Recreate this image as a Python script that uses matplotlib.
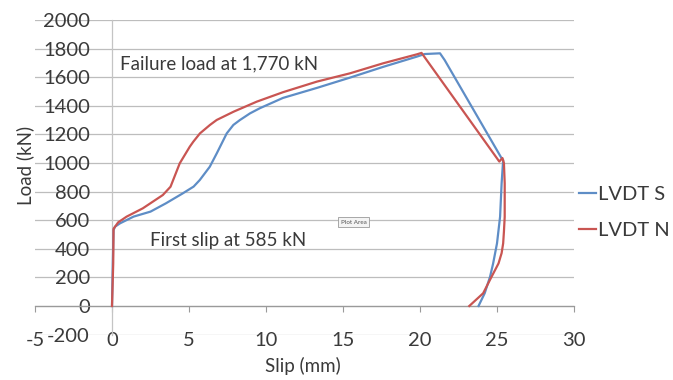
import matplotlib
matplotlib.use("Agg")
import matplotlib.pyplot as plt

plt.rcParams['font.family'] = ['Lato', 'DejaVu Sans']
plt.rcParams['axes.unicode_minus'] = False

# Load-slip response measured by the two LVDTs
slip_s = [0.0, 0.05, 0.1, 0.2, 0.52, 0.95, 1.4, 2.5, 3.5, 4.6, 5.3, 5.7, 6.35, 6.8,
          7.45, 7.88, 8.3, 8.96, 9.6, 11.1, 12.2, 13.3, 15.45, 17.6, 19.8, 20.3,
          21.3, 21.6, 25.3, 25.4, 25.3, 25.2, 25.0, 24.75, 24.55, 24.2, 23.8]
load_s = [0, 300, 531, 555, 578, 601, 625, 660, 718, 788, 835, 881, 974, 1067,
          1207, 1266, 1300, 1347, 1383, 1455, 1490, 1525, 1597, 1672, 1744, 1762,
          1767, 1720, 1033, 1021, 858, 624, 438, 298, 205, 89, 0]

slip_n = [0.0, 0.08, 0.1, 0.4, 0.95, 2.0, 3.3, 3.8, 4.4, 5.05, 5.28, 5.71, 6.36,
          6.8, 7.9, 9.4, 11.1, 13.3, 15.45, 17.6, 19.8, 20.1, 25.15, 25.35, 25.45,
          25.5, 25.5, 25.45, 25.4, 25.3, 25.1, 24.65, 24.1, 23.2]
load_n = [0, 300, 540, 585, 625, 683, 776, 834, 998, 1114, 1149, 1207, 1266,
          1301, 1359, 1429, 1495, 1569, 1627, 1697, 1760, 1770, 1010, 1035, 1000,
          858, 624, 520, 438, 370, 298, 205, 89, 0]

series_names = ["LVDT S", "LVDT N"]
series_colors = ["#5E8DC6", "#C95552"]

x_ticks = [-5, 0, 5, 10, 15, 20, 25, 30]
y_ticks = [-200, 0, 200, 400, 600, 800, 1000, 1200, 1400, 1600, 1800, 2000]

text_color = "#3A3A3A"
fs = 14.5

fig = plt.figure(figsize=(6.73, 3.80), dpi=100)
ax = fig.add_axes([35 / 673, 1 - 334.6 / 380, 539 / 673, 314.6 / 380])

ax.plot(slip_s, load_s, color=series_colors[0], lw=1.6, label=series_names[0], zorder=3)
ax.plot(slip_n, load_n, color=series_colors[1], lw=1.6, label=series_names[1], zorder=4)

ax.set_xlim(x_ticks[0], x_ticks[-1])
ax.set_ylim(y_ticks[0], y_ticks[-1])
ax.set_xticks(x_ticks)
ax.set_yticks(y_ticks)

ax.yaxis.grid(True, color="#BDBDBD", lw=0.9)
ax.xaxis.grid(False)
ax.set_axisbelow(True)

for side in ("top", "right"):
    ax.spines[side].set_visible(False)
ax.spines["bottom"].set_position(("data", 0))
ax.spines["left"].set_position(("data", 0))
ax.spines["bottom"].set_color("#9A9A9A")
ax.spines["left"].set_color("#C4C4C4")
ax.spines["bottom"].set_linewidth(0.9)
ax.spines["left"].set_linewidth(0.9)

ax.tick_params(axis="x", direction="out", length=4, width=0.8, color="#9A9A9A",
               pad=15, labelsize=fs, labelcolor=text_color)
ax.tick_params(axis="y", length=0, pad=16, labelsize=fs, labelcolor=text_color)

ax.text(0.52, 1692, "Failure load at 1,770 kN", fontsize=13.5, color=text_color,
        ha="left", va="center")
ax.text(2.47, 455, "First slip at 585 kN", fontsize=13.5, color=text_color,
        ha="left", va="center")
ax.text(15.7, 587, "Plot Area", fontsize=4.5, color="#555555", ha="center", va="center",
        bbox=dict(boxstyle="square,pad=0.4", fc="#F4F4F4", ec="#9A9A9A", lw=0.6))

fig.text(303 / 673, 1 - 366 / 380, "Slip (mm)", fontsize=13.5, color=text_color,
         ha="center", va="center")
fig.text(25 / 673, 1 - 165 / 380, "Load (kN)", fontsize=13.5, color=text_color,
         ha="center", va="center", rotation=90)

leg = ax.legend(loc="upper left", bbox_to_anchor=(579 / 673, 1 - 186 / 380),
                bbox_transform=fig.transFigure, frameon=False, fontsize=fs,
                handlelength=0.85, handletextpad=0.1, labelspacing=0.95,
                borderpad=0, borderaxespad=0)
for t in leg.get_texts():
    t.set_color(text_color)

fig.savefig("out.png", dpi=100)
